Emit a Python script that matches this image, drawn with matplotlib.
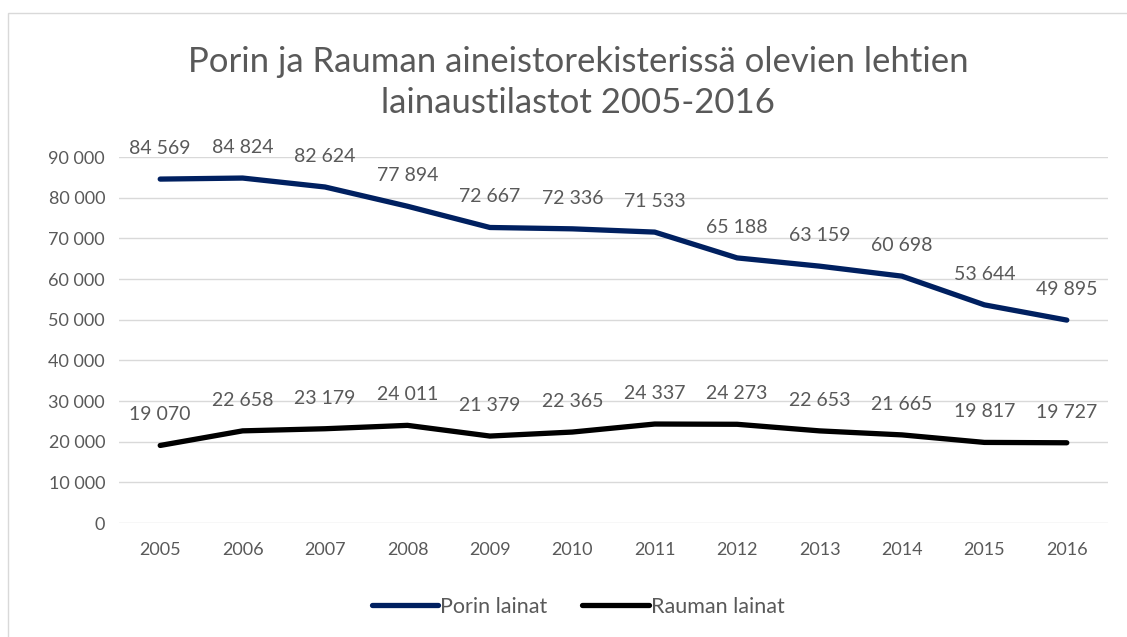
import matplotlib.pyplot as plt
from matplotlib.patches import Rectangle
from matplotlib.ticker import FuncFormatter

# Chart data
years = ["2005", "2006", "2007", "2008", "2009", "2010",
         "2011", "2012", "2013", "2014", "2015", "2016"]
porin = [84569, 84824, 82624, 77894, 72667, 72336,
         71533, 65188, 63159, 60698, 53644, 49895]
rauman = [19070, 22658, 23179, 24011, 21379, 22365,
          24337, 24273, 22653, 21665, 19817, 19727]

plt.rcParams["font.family"] = ["Lato", "DejaVu Sans"]
text_col = "#595959"


def fmt(v):
    return f"{int(v):,}".replace(",", " ")


fig = plt.figure(figsize=(11.27, 6.37), dpi=100)
ax = fig.add_axes([119 / 1127, 1 - 523 / 637, (1108 - 119) / 1127, (523 - 157) / 637])

x = list(range(len(years)))
ax.plot(x, porin, color="#002060", linewidth=3.8, solid_capstyle="round", label="Porin lainat")
ax.plot(x, rauman, color="black", linewidth=3.8, solid_capstyle="round", label="Rauman lainat")

# data labels above each point
for xi, v in zip(x, porin):
    ax.annotate(fmt(v), (xi, v), xytext=(0, 22), textcoords="offset points",
                ha="center", va="center", fontsize=14, color=text_col)
for xi, v in zip(x, rauman):
    ax.annotate(fmt(v), (xi, v), xytext=(0, 22), textcoords="offset points",
                ha="center", va="center", fontsize=14, color=text_col)

ax.set_xlim(-0.5, len(years) - 0.5)
ax.set_ylim(0, 90000)
ax.set_yticks(range(0, 90001, 10000))
ax.yaxis.set_major_formatter(FuncFormatter(lambda v, p: fmt(v)))
ax.set_xticks(x)
ax.set_xticklabels(years)
ax.tick_params(axis="both", length=0, labelsize=13, colors=text_col)
ax.tick_params(axis="x", pad=14)
ax.tick_params(axis="y", pad=10)
ax.grid(axis="y", color="#D9D9D9", linewidth=1)
ax.set_axisbelow(True)
for s in ax.spines.values():
    s.set_visible(False)

fig.text(0.513, 1 - 62 / 637, "Porin ja Rauman aineistorekisterissä olevien lehtien",
         ha="center", va="center", fontsize=25, color=text_col)
fig.text(0.513, 1 - 103 / 637, "lainaustilastot 2005-2016",
         ha="center", va="center", fontsize=25, color=text_col)

fig.legend(loc="center", bbox_to_anchor=(0.513, 1 - 607 / 637), ncol=2, frameon=False,
           fontsize=15.5, labelcolor=text_col, handlelength=3.1, handletextpad=0.1,
           columnspacing=1.6)

fig.patches.append(Rectangle((8 / 1127, -0.01), 1.0, 1 - 13 / 637 + 0.01,
                             transform=fig.transFigure, fill=False,
                             edgecolor="#D9D9D9", linewidth=1))

fig.savefig("out.png", dpi=100)
